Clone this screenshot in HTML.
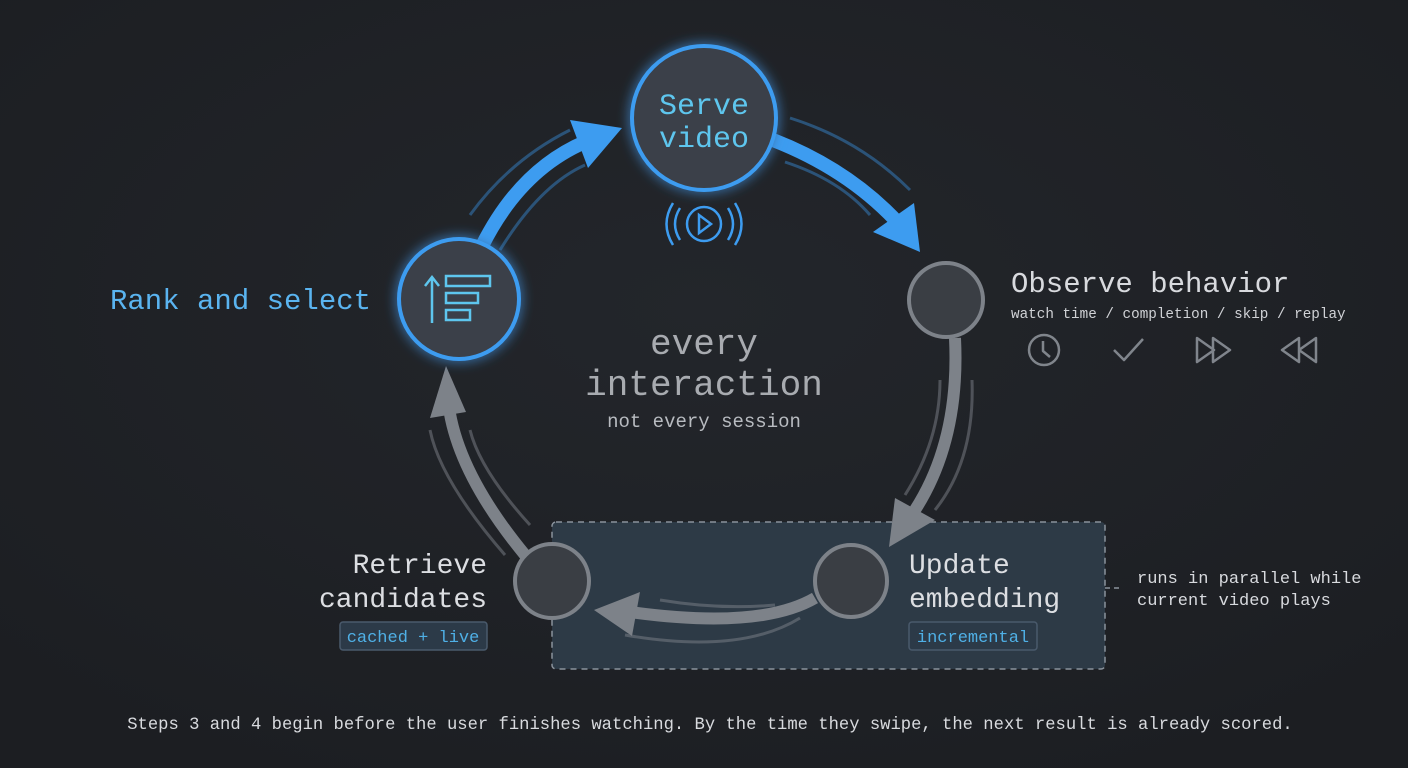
<!DOCTYPE html>
<html><head><meta charset="utf-8"><style>
html,body{margin:0;padding:0;background:#1e2024;}
svg{display:block}
text{font-family:"Liberation Mono",monospace;}
</style></head><body>
<svg width="1408" height="768" viewBox="0 0 1408 768" xmlns="http://www.w3.org/2000/svg">
<defs>
<filter id="glow" x="-50%" y="-50%" width="200%" height="200%"><feGaussianBlur stdDeviation="6" result="b"/><feMerge><feMergeNode in="b"/><feMergeNode in="SourceGraphic"/></feMerge></filter>
<radialGradient id="bg" cx="50%" cy="40%" r="70%"><stop offset="0" stop-color="#23262b"/><stop offset="1" stop-color="#1c1e22"/></radialGradient>
</defs>
<rect width="1408" height="768" fill="url(#bg)"/>
<rect x="552" y="522" width="553" height="147" rx="4" fill="#2d3a46" stroke="#8a929c" stroke-width="1.5" stroke-dasharray="6 5"/>
<path d="M1105 588 H1122" stroke="#8a929c" stroke-width="1.5" stroke-dasharray="5 4"/>
<text x="1137" y="583" font-size="17" fill="#d8dade">runs in parallel while</text>
<text x="1137" y="605" font-size="17" fill="#d8dade">current video plays</text>

<g fill="none" stroke="#3d9cf0" stroke-linecap="butt">
<path d="M482 246 Q520 170 585 142" stroke-width="14"/>
<path d="M773 140 Q850 170 900 225" stroke-width="14"/>
<path d="M470 215 Q510 160 570 130" stroke-width="3" opacity="0.4"/>
<path d="M500 250 Q540 185 585 165" stroke-width="3" opacity="0.4"/>
<path d="M790 118 Q860 140 910 190" stroke-width="3" opacity="0.4"/>
<path d="M785 162 Q840 180 870 215" stroke-width="3" opacity="0.4"/>
</g>
<polygon points="622,128 570,120 588,168" fill="#3d9cf0"/>
<polygon points="920,252 873,232 914,203" fill="#3d9cf0"/>

<g fill="none" stroke="#7d8289" stroke-linecap="butt">
<path d="M955 338 Q960 440 915 510" stroke-width="12"/>
<path d="M815 598 Q760 630 630 612" stroke-width="12"/>
<path d="M525 555 Q455 470 448 400" stroke-width="12"/>
<path d="M972 380 Q975 460 935 510" stroke-width="3" opacity="0.5"/>
<path d="M940 380 Q940 440 905 495" stroke-width="3" opacity="0.5"/>
<path d="M800 618 Q740 655 625 635" stroke-width="3" opacity="0.5"/>
<path d="M775 605 Q720 610 660 600" stroke-width="3" opacity="0.5"/>
<path d="M505 555 Q440 480 430 430" stroke-width="3" opacity="0.5"/>
<path d="M530 525 Q480 470 470 430" stroke-width="3" opacity="0.5"/>
</g>
<polygon points="889,547 895,498 935,520" fill="#7d8289"/>
<polygon points="594,610 640,592 632,636" fill="#7d8289"/>
<polygon points="446,366 430,418 466,412" fill="#7d8289"/>

<g filter="url(#glow)">
<circle cx="704" cy="118" r="72" fill="#3a4149" stroke="#3d9cf0" stroke-width="4"/>
<circle cx="459" cy="299" r="60" fill="#3a4149" stroke="#3d9cf0" stroke-width="4"/>
</g>
<circle cx="946" cy="300" r="37" fill="#3a3e44" stroke="#7d8289" stroke-width="4"/>
<circle cx="851" cy="581" r="36" fill="#3a3e44" stroke="#7d8289" stroke-width="4"/>
<circle cx="552" cy="581" r="37" fill="#3a3e44" stroke="#7d8289" stroke-width="4"/>

<text x="704" y="114" font-size="30" fill="#5ec6ee" text-anchor="middle">Serve</text>
<text x="704" y="147" font-size="30" fill="#5ec6ee" text-anchor="middle">video</text>

<g fill="none" stroke="#3d9cf0" stroke-width="2.5">
<circle cx="704" cy="224" r="17"/>
<path d="M699 215 L711 224 L699 233 Z"/>
<path d="M680 208 Q670 224 680 240"/><path d="M673 203 Q660 224 673 245"/>
<path d="M728 208 Q738 224 728 240"/><path d="M735 203 Q748 224 735 245"/>
</g>
<g fill="none" stroke="#5ec6ee" stroke-width="2.5">
<path d="M432 323 V278 M425 286 L432 277 L439 286"/>
<rect x="446" y="276" width="44" height="10"/>
<rect x="446" y="293" width="32" height="10"/>
<rect x="446" y="310" width="24" height="10"/>
</g>

<text x="110" y="309" font-size="29" fill="#5ab4f0">Rank and select</text>
<text x="1011" y="292" font-size="29" fill="#d8dade">Observe behavior</text>
<text x="1011" y="318" font-size="14.3" fill="#d0d2d6">watch time / completion / skip / replay</text>
<g fill="none" stroke="#80858c" stroke-width="2.5" stroke-linejoin="round">
<circle cx="1044" cy="350" r="15"/><path d="M1043 341 V351 L1050 357"/>
<path d="M1114 350 L1124 360 L1143 339"/>
<path d="M1197 338 L1214 350 L1197 362 Z M1213 338 L1230 350 L1213 362 Z"/>
<path d="M1299 338 L1282 350 L1299 362 Z M1316 338 L1299 350 L1316 362 Z"/>
</g>

<text x="704" y="354" font-size="36" fill="#a8abb0" text-anchor="middle">every</text>
<text x="704" y="395" font-size="36" fill="#a8abb0" text-anchor="middle">interaction</text>
<text x="704" y="427" font-size="19" fill="#b8bbc0" text-anchor="middle">not every session</text>

<text x="487" y="573" font-size="28" fill="#dcdee2" text-anchor="end">Retrieve</text>
<text x="487" y="607" font-size="28" fill="#dcdee2" text-anchor="end">candidates</text>
<rect x="340" y="622" width="147" height="28" rx="3" fill="#2c3a48" stroke="#4a5a6c" stroke-width="1.5"/>
<text x="413" y="642" font-size="17" fill="#4fb0e6" text-anchor="middle">cached + live</text>

<text x="909" y="573" font-size="28" fill="#dcdee2">Update</text>
<text x="909" y="607" font-size="28" fill="#dcdee2">embedding</text>
<rect x="909" y="622" width="128" height="28" rx="3" fill="#2c3a48" stroke="#4a5a6c" stroke-width="1.5"/>
<text x="973" y="642" font-size="17" fill="#4fb0e6" text-anchor="middle">incremental</text>

<text x="710" y="729" font-size="17.2" fill="#d8dade" text-anchor="middle">Steps 3 and 4 begin before the user finishes watching. By the time they swipe, the next result is already scored.</text>
</svg>
</body></html>
